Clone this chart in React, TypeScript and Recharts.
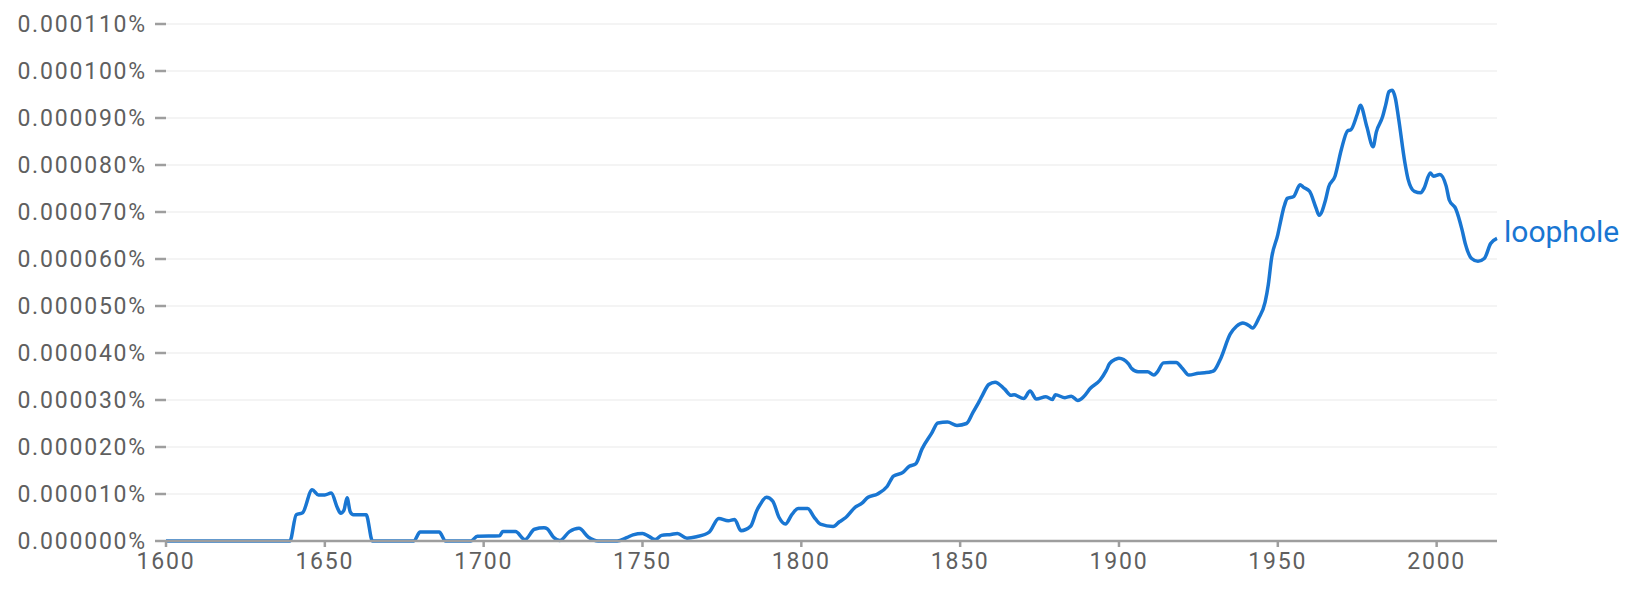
import React from 'react'
import { LineChart, Line, XAxis, YAxis, CartesianGrid } from 'recharts'

// values are in millionths of a percent (10 => 0.000010%)
const years = [
  1600, 1639, 1641, 1643, 1646, 1648, 1650, 1652, 1654, 1655, 1656, 1657, 1658, 1659, 1663, 1665,
  1678, 1680, 1686, 1688, 1696, 1698, 1705, 1706, 1710, 1713, 1716, 1719, 1720, 1722, 1724,
  1727, 1730, 1733, 1736, 1742, 1745, 1747, 1750, 1752, 1754, 1756, 1759, 1761, 1764, 1767,
  1771, 1774, 1777, 1779, 1781, 1784, 1786, 1787, 1789, 1791, 1793, 1795, 1797, 1799, 1802,
  1804, 1806, 1810, 1812, 1814, 1817, 1819, 1821, 1824, 1827, 1829, 1832, 1834, 1836, 1838,
  1841, 1843, 1846, 1849, 1852, 1854, 1856, 1857, 1859, 1861, 1864, 1866, 1867, 1870, 1872,
  1874, 1877, 1879, 1880, 1883, 1885, 1887, 1889, 1891, 1894, 1896, 1897, 1899, 1900, 1903,
  1904, 1906, 1909, 1911, 1912, 1914, 1916, 1918, 1920, 1922, 1925, 1927, 1929, 1930, 1932,
  1935, 1937, 1939, 1941, 1942, 1944, 1946, 1947, 1948, 1950, 1951, 1952, 1953, 1955, 1957,
  1958, 1960, 1962, 1963, 1965, 1966, 1968, 1970, 1972, 1973, 1975, 1976, 1978, 1980, 1981,
  1983, 1984, 1985, 1986, 1987, 1988, 1990, 1991, 1993, 1995, 1996, 1998, 1999, 2001, 2003,
  2004, 2006, 2008, 2009, 2011, 2013, 2015, 2017, 2019,
]
const loophole = [
  0, 0, 5.6, 6.0, 10.9, 9.8, 9.8, 10.2, 7.0, 5.9, 6.5, 9.2, 6.2, 5.6, 5.6, 0,
  0, 1.9, 1.9, 0, 0, 1.0, 1.1, 2.0, 2.0, 0.3, 2.5, 2.8, 2.6, 0.8, 0.1,
  2.0, 2.7, 0.8, 0, 0, 0.7, 1.3, 1.6, 1.0, 0.3, 1.2, 1.4, 1.6, 0.6, 0.9,
  1.9, 4.8, 4.3, 4.6, 2.2, 3.1, 6.5, 7.7, 9.3, 8.5, 5.0, 3.6, 5.6, 6.9, 6.9,
  5.1, 3.6, 3.1, 4.1, 5.0, 7.2, 8.0, 9.3, 10.0, 11.6, 13.8, 14.6, 15.9, 16.4, 19.6,
  22.9, 25.1, 25.3, 24.6, 25.0, 27.3, 29.7, 31.0, 33.3, 33.8, 32.3, 31.0, 31.1, 30.3, 31.9,
  30.2, 30.7, 30.1, 31.1, 30.5, 30.8, 29.9, 30.8, 32.5, 34.2, 36.3, 37.7, 38.7, 38.9, 37.7,
  36.7, 36.0, 36.0, 35.3, 35.9, 37.9, 38.0, 38.0, 36.7, 35.3, 35.7, 35.8, 36.0, 36.3, 38.8,
  44.0, 45.7, 46.4, 45.8, 45.3, 47.4, 50.8, 54.5, 60.0, 65.2, 68.4, 71.2, 72.9, 73.3, 75.8,
  75.3, 74.4, 70.9, 69.3, 72.5, 75.3, 77.6, 83.3, 87.3, 87.5, 90.8, 92.7, 88.2, 83.9, 87.0,
  90.3, 92.9, 95.6, 95.9, 94.2, 90.0, 80.5, 77.0, 74.4, 74.1, 75.0, 78.3, 77.6, 78.0, 75.5,
  72.5, 70.7, 66.2, 63.3, 60.1, 59.5, 60.1, 63.3, 64.4,
]
const yearTicks = [1600, 1650, 1700, 1750, 1800, 1850, 1900, 1950, 2000]
const valueTicks = [0, 10, 20, 30, 40, 50, 60, 70, 80, 90, 100, 110]
const seriesName = 'loophole'

const data = years.map((year, i) => ({ year, loophole: loophole[i] }))

const BLUE = '#1976d2'
const GREY = '#9e9e9e'
const TEXT = '#5f5f5f'
const tickFont = { fill: TEXT, fontSize: 23, fontFamily: 'Roboto, sans-serif', letterSpacing: 1.8 }

const EndLabel = (props: any) => {
  const { x, y, index } = props
  if (index !== data.length - 1) return null
  return (
    <text x={x + 7} y={y - 7} fill={BLUE} fontSize={30} fontFamily="Roboto, sans-serif" dominantBaseline="central">
      {seriesName}
    </text>
  )
}

export default function App() {
  return (
    <div style={{ position: 'absolute', left: 0, top: 0, background: '#fff' }}>
      <LineChart width={1638} height={589} data={data} margin={{ top: 24, right: 141, bottom: 0, left: 0 }}>
        <CartesianGrid vertical={false} stroke="#f0f0f0" strokeWidth={1.5} />
        <XAxis
          dataKey="year"
          type="number"
          domain={[1600, 2019]}
          ticks={yearTicks}
          height={48}
          tick={tickFont}
          tickSize={6}
          tickMargin={6}
          tickLine={{ stroke: GREY, strokeWidth: 2.5 }}
          axisLine={{ stroke: GREY, strokeWidth: 2.5 }}
        />
        <YAxis
          type="number"
          domain={[0, 110]}
          ticks={valueTicks}
          width={166}
          tick={tickFont}
          tickSize={11}
          tickMargin={8}
          tickLine={{ stroke: GREY, strokeWidth: 2.5 }}
          axisLine={false}
          tickFormatter={(v: number) => `${(v / 1e6).toFixed(6)}%`}
        />
        <Line
          type="monotone"
          dataKey="loophole"
          stroke={BLUE}
          strokeWidth={3.5}
          dot={false}
          label={<EndLabel />}
          isAnimationActive={false}
        />
      </LineChart>
    </div>
  )
}
